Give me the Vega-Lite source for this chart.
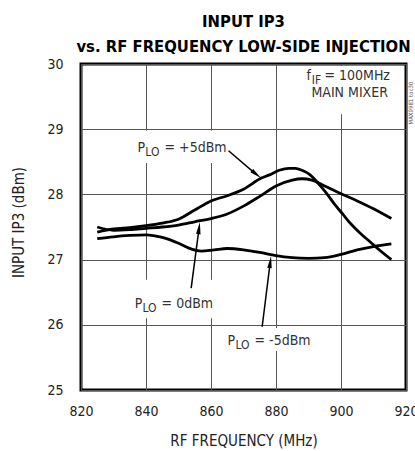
{
  "$schema": "https://vega.github.io/schema/vega-lite/v6.json",
  "width": 325,
  "height": 326,
  "autosize": {"type": "none"},
  "padding": {"left": 81, "top": 64, "right": 9, "bottom": 61},
  "background": "white",
  "title": {
    "text": ["INPUT IP3", "vs. RF FREQUENCY LOW-SIDE INJECTION"],
    "font": "DejaVu Sans Condensed, sans-serif",
    "fontSize": 16.5,
    "fontWeight": "bold",
    "lineHeight": 25,
    "anchor": "middle",
    "baseline": "bottom",
    "offset": 13,
    "dy": 27,
    "color": "black"
  },
  "config": {
    "view": {"stroke": "black", "strokeWidth": 3},
    "axis": {
      "grid": true,
      "gridColor": "#555555",
      "gridWidth": 1,
      "gridOpacity": 1,
      "domain": false,
      "ticks": false,
      "tickSize": 0,
      "labelFlush": false,
      "labelFont": "DejaVu Sans Condensed, sans-serif",
      "labelFontSize": 14,
      "labelColor": "#222222",
      "titleFont": "DejaVu Sans Condensed, sans-serif",
      "titleFontSize": 15,
      "titleFontWeight": "normal",
      "titleColor": "#222222"
    }
  },
  "datasets": {
    "curves": [
      {"s": "+5", "f": 825, "v": 27.42}, {"s": "+5", "f": 830, "v": 27.47}, {"s": "+5", "f": 835, "v": 27.49},
      {"s": "+5", "f": 840, "v": 27.52}, {"s": "+5", "f": 845, "v": 27.56}, {"s": "+5", "f": 850, "v": 27.62},
      {"s": "+5", "f": 855, "v": 27.76}, {"s": "+5", "f": 860, "v": 27.9}, {"s": "+5", "f": 865, "v": 27.98},
      {"s": "+5", "f": 870, "v": 28.08}, {"s": "+5", "f": 875.5, "v": 28.25}, {"s": "+5", "f": 878, "v": 28.3},
      {"s": "+5", "f": 881, "v": 28.37}, {"s": "+5", "f": 884, "v": 28.4}, {"s": "+5", "f": 886, "v": 28.4},
      {"s": "+5", "f": 888, "v": 28.37}, {"s": "+5", "f": 890.5, "v": 28.3}, {"s": "+5", "f": 893, "v": 28.17},
      {"s": "+5", "f": 895.5, "v": 28.02}, {"s": "+5", "f": 898, "v": 27.85}, {"s": "+5", "f": 900.5, "v": 27.7},
      {"s": "+5", "f": 903, "v": 27.55}, {"s": "+5", "f": 906, "v": 27.4}, {"s": "+5", "f": 909, "v": 27.27},
      {"s": "+5", "f": 912, "v": 27.14}, {"s": "+5", "f": 915.5, "v": 27.0},
      {"s": "0", "f": 825, "v": 27.5}, {"s": "0", "f": 830, "v": 27.45}, {"s": "0", "f": 835, "v": 27.46},
      {"s": "0", "f": 840, "v": 27.48}, {"s": "0", "f": 845, "v": 27.5}, {"s": "0", "f": 850, "v": 27.53},
      {"s": "0", "f": 855, "v": 27.58}, {"s": "0", "f": 860, "v": 27.63}, {"s": "0", "f": 865, "v": 27.7},
      {"s": "0", "f": 870, "v": 27.82}, {"s": "0", "f": 875, "v": 27.97}, {"s": "0", "f": 880, "v": 28.13},
      {"s": "0", "f": 885, "v": 28.22}, {"s": "0", "f": 888, "v": 28.24}, {"s": "0", "f": 891, "v": 28.22},
      {"s": "0", "f": 895, "v": 28.13}, {"s": "0", "f": 900, "v": 28.01}, {"s": "0", "f": 905, "v": 27.9},
      {"s": "0", "f": 910, "v": 27.78}, {"s": "0", "f": 915.5, "v": 27.63},
      {"s": "-5", "f": 825, "v": 27.32}, {"s": "-5", "f": 830, "v": 27.35}, {"s": "-5", "f": 835, "v": 27.37},
      {"s": "-5", "f": 840, "v": 27.38}, {"s": "-5", "f": 845, "v": 27.34}, {"s": "-5", "f": 850, "v": 27.25},
      {"s": "-5", "f": 853, "v": 27.18}, {"s": "-5", "f": 857, "v": 27.13}, {"s": "-5", "f": 861, "v": 27.15},
      {"s": "-5", "f": 865, "v": 27.17}, {"s": "-5", "f": 870, "v": 27.15}, {"s": "-5", "f": 875, "v": 27.11},
      {"s": "-5", "f": 880, "v": 27.06}, {"s": "-5", "f": 885, "v": 27.03}, {"s": "-5", "f": 890, "v": 27.02},
      {"s": "-5", "f": 895, "v": 27.03}, {"s": "-5", "f": 900, "v": 27.08}, {"s": "-5", "f": 905, "v": 27.15},
      {"s": "-5", "f": 910, "v": 27.2}, {"s": "-5", "f": 915.5, "v": 27.24}
    ],
    "boxes": [
      {"f": 836.5, "f2": 864.5, "v": 28.98, "v2": 28.48},
      {"f": 888.8, "f2": 919.2, "v": 29.97, "v2": 29.23},
      {"f": 835, "f2": 861.4, "v": 26.69, "v2": 26.1},
      {"f": 863.5, "f2": 890.9, "v": 25.95, "v2": 25.6}
    ],
    "arrows": [
      {"f": 865.4, "v": 28.67, "f2": 873.8, "v2": 28.31},
      {"f": 853.9, "v": 26.564, "f2": 856.3, "v2": 27.47},
      {"f": 875.75, "v": 25.97, "f2": 878.2, "v2": 26.95}
    ],
    "headDiag": [{"f": 873.8, "v": 28.314}],
    "headUp": [{"f": 856.3, "v": 27.47}, {"f": 878.2, "v": 26.95}],
    "texts": [
      {"t": "P", "f": 837.4, "v": 28.65},
      {"t": "= +5dBm", "f": 845.7, "v": 28.65},
      {"t": "P", "f": 836.5, "v": 26.258},
      {"t": "= 0dBm", "f": 844.8, "v": 26.258},
      {"t": "P", "f": 865.1, "v": 25.69},
      {"t": "= -5dBm", "f": 873.4, "v": 25.69},
      {"t": "f", "f": 889.4, "v": 29.755},
      {"t": "= 100MHz", "f": 894.9, "v": 29.755},
      {"t": "MAIN MIXER", "f": 890.9, "v": 29.494}
    ],
    "subs": [
      {"t": "LO", "f": 839.8, "v": 28.65},
      {"t": "LO", "f": 838.9, "v": 26.258},
      {"t": "LO", "f": 867.5, "v": 25.69},
      {"t": "IF", "f": 891.0, "v": 29.755}
    ],
    "code": [{"t": "MAX9981 toc30", "f": 921.4, "v": 29.4}]
  },
  "encoding": {
    "x": {
      "field": "f",
      "type": "quantitative",
      "scale": {"domain": [820, 920], "nice": false, "zero": false},
      "axis": {
        "values": [820, 840, 860, 880, 900, 920],
        "title": "RF FREQUENCY (MHz)",
        "labelPadding": 14,
        "titleY": 55,
        "titleBaseline": "alphabetic"
      }
    },
    "y": {
      "field": "v",
      "type": "quantitative",
      "scale": {"domain": [25, 30], "nice": false, "zero": false},
      "axis": {
        "values": [25, 26, 27, 28, 29, 30],
        "title": "INPUT IP3 (dBm)",
        "labelPadding": 18,
        "titleX": -63,
        "titleY": 158,
        "titleAngle": -90,
        "titleAlign": "center",
        "titleBaseline": "middle"
      }
    }
  },
  "layer": [
    {
      "data": {"name": "boxes"},
      "mark": {"type": "rect", "fill": "white", "stroke": null},
      "encoding": {"x2": {"field": "f2"}, "y2": {"field": "v2"}}
    },
    {
      "data": {"name": "curves"},
      "mark": {"type": "line", "color": "black", "strokeWidth": 2.8, "interpolate": "monotone"},
      "encoding": {"detail": {"field": "s", "type": "nominal"}}
    },
    {
      "data": {"name": "arrows"},
      "mark": {"type": "rule", "color": "black", "strokeWidth": 1.5},
      "encoding": {"x2": {"field": "f2"}, "y2": {"field": "v2"}}
    },
    {
      "data": {"name": "headDiag"},
      "mark": {"type": "point", "shape": "M0,-1L0.32,0.75L-0.32,0.75Z", "size": 196, "filled": true, "color": "black", "opacity": 1, "angle": 129},
      "encoding": {}
    },
    {
      "data": {"name": "headUp"},
      "mark": {"type": "point", "shape": "M0,-1L0.32,0.75L-0.32,0.75Z", "size": 196, "filled": true, "color": "black", "opacity": 1, "angle": 7.4},
      "encoding": {}
    },
    {
      "data": {"name": "texts"},
      "mark": {"type": "text", "align": "left", "baseline": "alphabetic", "fontSize": 14, "color": "#333333", "font": "DejaVu Sans Condensed, sans-serif"},
      "encoding": {"text": {"field": "t"}}
    },
    {
      "data": {"name": "subs"},
      "mark": {"type": "text", "align": "left", "baseline": "alphabetic", "fontSize": 12, "dy": 4, "color": "#333333", "font": "DejaVu Sans Condensed, sans-serif"},
      "encoding": {"text": {"field": "t"}}
    },
    {
      "data": {"name": "code"},
      "mark": {"type": "text", "align": "center", "baseline": "middle", "angle": 270, "fontSize": 6, "color": "#555555", "font": "DejaVu Sans Condensed, sans-serif"},
      "encoding": {"text": {"field": "t"}}
    }
  ]
}
